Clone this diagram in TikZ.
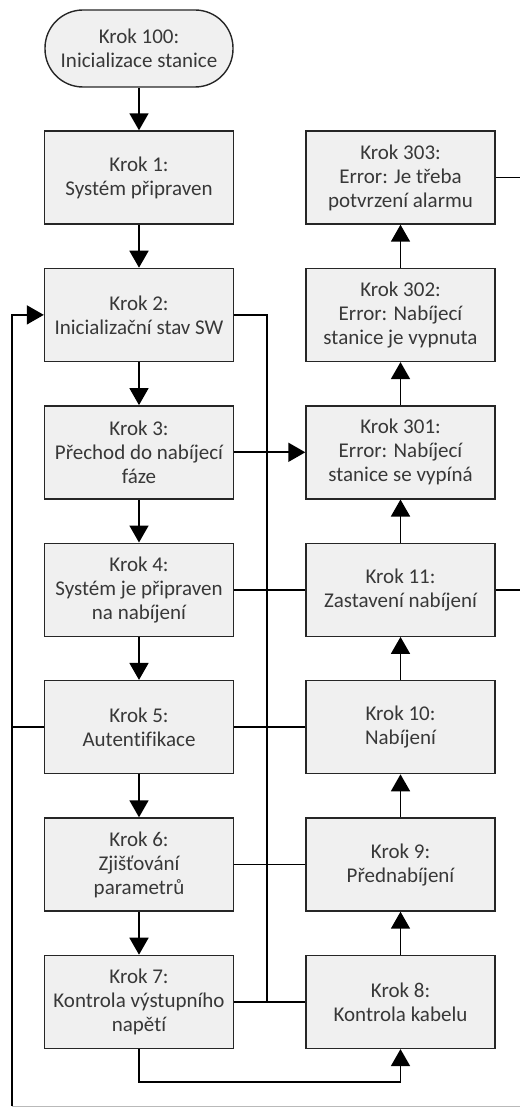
\documentclass[tikz,border=0pt]{standalone}
\usepackage{fontspec}
\setmainfont{Carlito}[Ligatures=NoCommon]
\usetikzlibrary{arrows.meta}
\begin{document}
\begin{tikzpicture}[x=1pt,y=-1pt,
  every node/.style={font=\fontsize{21}{24}\selectfont, text=black!78},
  stepbox/.style={draw=black!85, fill=gray!12, line width=1.4pt, minimum width=189pt, minimum height=93pt, align=center, inner sep=2pt},
  termbox/.style={draw=black!85, fill=gray!12, line width=1.4pt, minimum width=188pt, minimum height=77pt, rounded corners=38pt, align=center},
  conn/.style={line width=1.7pt, draw=black},
  arr/.style={conn, -{Triangle[length=17pt,width=19pt]}}
]
\useasboundingbox (0,0) rectangle (520,1107);
% left column
\node[termbox] (t100) at (139,48.5) {Krok 100:\\Inicializace stanice};
\node[stepbox] (n1) at (139,177.5) {Krok 1:\\Systém připraven};
\node[stepbox] (n2) at (139,314.9) {Krok 2:\\Inicializační stav SW};
\node[stepbox] (n3) at (139,452.3) {Krok 3:\\Přechod do nabíjecí\\fáze};
\node[stepbox] (n4) at (139,589.7) {Krok 4:\\Systém je připraven\\na nabíjení};
\node[stepbox] (n5) at (139,727.1) {Krok 5:\\Autentifikace};
\node[stepbox] (n6) at (139,864.5) {Krok 6:\\Zjišťování\\parametrů};
\node[stepbox] (n7) at (139,1001.9) {Krok 7:\\Kontrola výstupního\\napětí};
% right column
\node[stepbox] (n303) at (400.5,177.5) {Krok 303:\\Error: Je třeba\\potvrzení alarmu};
\node[stepbox] (n302) at (400.5,314.9) {Krok 302:\\Error: Nabíjecí\\stanice je vypnuta};
\node[stepbox] (n301) at (400.5,452.3) {Krok 301:\\Error: Nabíjecí\\stanice se vypíná};
\node[stepbox] (n11) at (400.5,589.7) {Krok 11:\\Zastavení nabíjení};
\node[stepbox] (n10) at (400.5,727.1) {Krok 10:\\Nabíjení};
\node[stepbox] (n9) at (400.5,864.5) {Krok 9:\\Přednabíjení};
\node[stepbox] (n8) at (400.5,1001.9) {Krok 8:\\Kontrola kabelu};
% helper coordinates
\coordinate (busTop) at (267,314.9);
\coordinate (busBot) at (267,1001.9);
\coordinate (busL) at (12,1106);
\coordinate (low) at (0,1082);
\coordinate (edge303) at (520,177.5);
\coordinate (edge11) at (520,589.7);
\coordinate (frameR) at (520,1106);
% bottom frame line
\draw[gray!55, line width=1pt] (busL) -- (frameR);
% left column arrows
\draw[arr] (t100) -- (n1);
\draw[arr] (n1) -- (n2);
\draw[arr] (n2) -- (n3);
\draw[arr] (n3) -- (n4);
\draw[arr] (n4) -- (n5);
\draw[arr] (n5) -- (n6);
\draw[arr] (n6) -- (n7);
% right column arrows
\draw[arr] (n8) -- (n9);
\draw[arr] (n9) -- (n10);
\draw[arr] (n10) -- (n11);
\draw[arr] (n11) -- (n301);
\draw[arr] (n301) -- (n302);
\draw[arr] (n302) -- (n303);
% middle bus
\draw[conn] (n2.east) -- (busTop) -- (busBot);
\draw[arr] (n3.east) -- (n301.west);
\draw[conn] (n4.east) -- (n11.west);
\draw[conn] (n5.east) -- (n10.west);
\draw[conn] (n6.east) -- (n9.west);
\draw[conn] (n7.east) -- (n8.west);
% left bus
\draw[arr] (busL) |- (n2.west);
\draw[conn] (n5.west) -- (n5.west -| busL);
% bottom link
\draw[arr] (n7.south) -- (n7.south |- low) -| (n8.south);
% right exits
\draw[conn] (n303.east) -- (edge303);
\draw[conn] (n11.east) -- (edge11);
\end{tikzpicture}
\end{document}
